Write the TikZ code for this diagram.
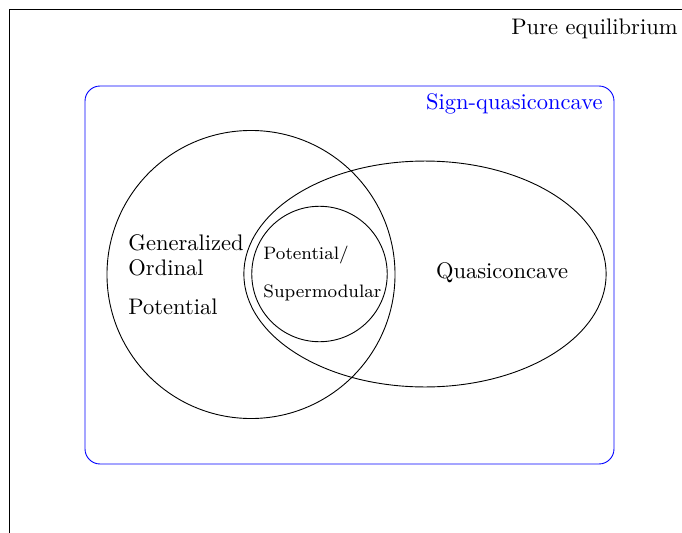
\documentclass[tikz,border=0pt]{standalone}
\begin{document}
\begin{tikzpicture}[x=0.4444pt,y=-0.4444pt,
  setline/.style={draw=black,line width=0.4pt},
  lbl/.style={inner sep=0pt,font=\normalsize},
  small/.style={inner sep=0pt,font=\footnotesize,anchor=west}]
\useasboundingbox (0,0) rectangle (682,533);
\coordinate (bl) at (9.5,533);
\coordinate (tl) at (9.5,9.5);
\coordinate (tr) at (682,9.5);
\draw[line width=0.4pt] (bl) -- (tl) -- (tr);
\node[lbl,anchor=east] (pure) at (678,29) {Pure equilibrium};
\draw[blue,line width=0.4pt,rounded corners=6.7pt] (85,86) rectangle (614,464);
\node[lbl,anchor=east,text=blue] (sign) at (603,104) {Sign-quasiconcave};
\draw[setline] (251,274.5) circle[radius=64pt];
\draw[setline] (425,274) ellipse[x radius=80.5pt,y radius=50.2pt];
\draw[setline] (319.5,274) circle[radius=30.1pt];
\node[lbl,anchor=west] (gen) at (128,243) {Generalized};
\node[lbl,anchor=west] (ord) at (128,268) {Ordinal};
\node[lbl,anchor=west] (pot) at (128,307) {Potential};
\node[small] (p2) at (263,255) {Potential/};
\node[small] (sup) at (263,293) {Supermodular};
\node[lbl] (qc) at (502,273) {Quasiconcave};
\end{tikzpicture}
\end{document}
